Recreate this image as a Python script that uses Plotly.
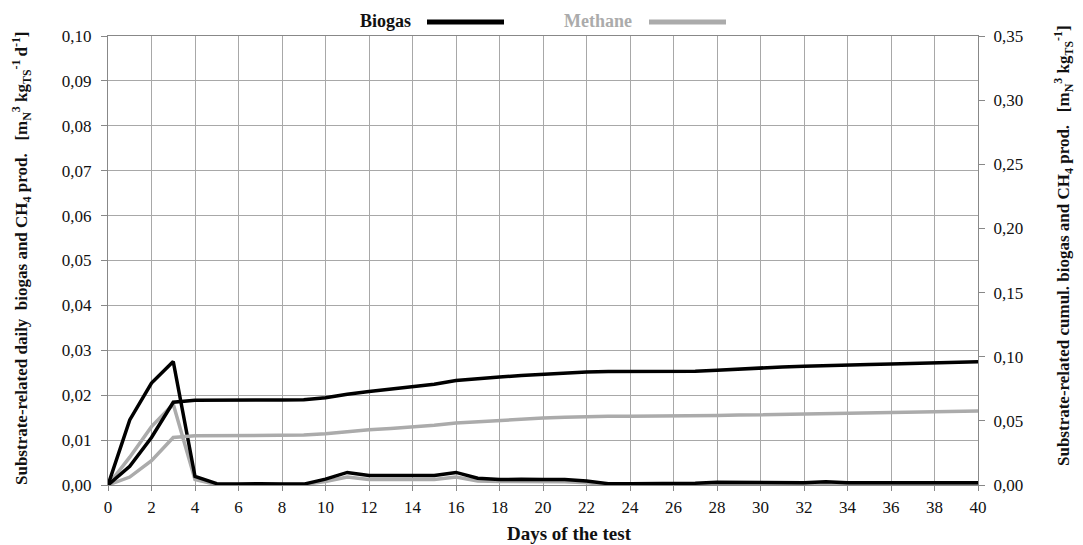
import plotly.graph_objects as go

days = list(range(0, 41))

daily_biogas = [0, 0.0145, 0.0227, 0.0275, 0.0019, 0.0003, 0.0002, 0.0003, 0.0002, 0.0002,
                0.0013, 0.0028, 0.0021, 0.0021, 0.0021, 0.0021, 0.0028, 0.0015, 0.0012, 0.0013,
                0.0012, 0.0012, 0.0009, 0.0003, 0.0003, 0.0003, 0.0003, 0.0004, 0.0006, 0.0006,
                0.0005, 0.0005, 0.0005, 0.0007, 0.0005, 0.0005, 0.0005, 0.0005, 0.0005, 0.0005,
                0.0005]

daily_methane = [0, 0.0062, 0.013, 0.018, 0.0012, 0.0001, 0.0001, 0.0001, 0.0001, 0.0001,
                 0.0008, 0.0018, 0.0012, 0.0012, 0.0012, 0.0012, 0.0018, 0.0009, 0.0008, 0.0008,
                 0.0007, 0.0007, 0.0005, 0.0001, 0.0001, 0.0001, 0.0001, 0.0001, 0.0003, 0.0004,
                 0.0003, 0.0003, 0.0003, 0.0004, 0.0003, 0.0003, 0.0003, 0.0003, 0.0003, 0.0003,
                 0.0003]

cumul_biogas = [0, 0.0145, 0.037, 0.0645, 0.066, 0.0663, 0.0663, 0.0663, 0.0663, 0.0664,
                0.068, 0.0708, 0.0728, 0.0747, 0.0766, 0.0785, 0.0815, 0.083, 0.0842, 0.0853,
                0.0864, 0.0874, 0.0881, 0.0884, 0.0885, 0.0885, 0.0885, 0.0887, 0.0895, 0.0905,
                0.0912, 0.092, 0.0926, 0.0932, 0.0937, 0.094, 0.0943, 0.0948, 0.0953, 0.0957,
                0.096]

cumul_methane = [0, 0.0062, 0.019, 0.037, 0.0384, 0.0386, 0.0387, 0.0388, 0.0388, 0.0389,
                 0.040, 0.0418, 0.043, 0.044, 0.0452, 0.0466, 0.0484, 0.0495, 0.0505, 0.0514,
                 0.0522, 0.0528, 0.0533, 0.0535, 0.0536, 0.0536, 0.0537, 0.0538, 0.0541, 0.0545,
                 0.0548, 0.0551, 0.0554, 0.0558, 0.0561, 0.0563, 0.0566, 0.0568, 0.0571, 0.0574,
                 0.0577]

BLACK = "#000000"
GRAY = "#ababab"
FONT = "Liberation Serif"
LW = 3.5

fig = go.Figure()
fig.add_trace(go.Scatter(x=days, y=cumul_methane, yaxis="y2", mode="lines",
                         line=dict(color=GRAY, width=LW), showlegend=False))
fig.add_trace(go.Scatter(x=days, y=cumul_biogas, yaxis="y2", mode="lines",
                         line=dict(color=BLACK, width=LW), showlegend=False))
fig.add_trace(go.Scatter(x=days, y=daily_methane, mode="lines",
                         line=dict(color=GRAY, width=LW), showlegend=False))
fig.add_trace(go.Scatter(x=days, y=daily_biogas, mode="lines",
                         line=dict(color=BLACK, width=LW), showlegend=False))

grid = "#a8a8a8"
axline = "#888888"
tickfont = dict(family=FONT, size=17, color="#111111")

fig.update_layout(
    width=1083, height=545,
    margin=dict(l=108, r=105, t=36, b=60),
    paper_bgcolor="white", plot_bgcolor="white",
    separators=", ",
    font=dict(family=FONT, color="#111111"),
    xaxis=dict(range=[0, 40], dtick=2, tick0=0, showgrid=True, gridcolor=grid, gridwidth=1,
               showline=True, linecolor=axline, linewidth=1, mirror=True,
               ticks="outside", ticklen=5, tickcolor=axline, tickfont=tickfont,
               ticklabelstandoff=2, zeroline=False),
    yaxis=dict(range=[0, 0.1], dtick=0.01, tick0=0, tickformat=".2f",
               showgrid=True, gridcolor=grid, gridwidth=1,
               showline=True, linecolor=axline, linewidth=1,
               ticks="outside", ticklen=6, tickcolor=axline, tickfont=tickfont,
               ticklabelstandoff=6, zeroline=False),
    yaxis2=dict(range=[0, 0.35], dtick=0.05, tick0=0, tickformat=".2f",
                overlaying="y", side="right", showgrid=False,
                showline=True, linecolor=axline, linewidth=1,
                ticks="outside", ticklen=6, tickcolor=axline, tickfont=tickfont,
                ticklabelstandoff=5, zeroline=False),
)

W = 870.0
H = 449.0
def px(x):
    return (x - 108) / W
def py(y):
    return (485 - y) / H

annotations = [
    dict(text="<b>Days of the test</b>", x=px(569), y=py(533), xref="paper", yref="paper",
         showarrow=False, font=dict(family=FONT, size=19, color="#111111"),
         xanchor="center", yanchor="middle"),
    dict(text="<b>Substrate-related daily  biogas and CH<sub>4</sub> prod.   [m<sub>N</sub><sup>3</sup> kg<sub>TS</sub><sup>-1 </sup>d<sup>-1</sup>]</b>",
         x=px(21), y=py(258), xref="paper", yref="paper", textangle=-90,
         showarrow=False, font=dict(family=FONT, size=17, color="#111111"),
         xanchor="center", yanchor="middle"),
    dict(text="<b>Substrate-related cumul. biogas and CH<sub>4</sub> prod.   [m<sub>N</sub><sup>3</sup> kg<sub>TS</sub><sup>-1</sup>]</b>",
         x=px(1063), y=py(246), xref="paper", yref="paper", textangle=-90,
         showarrow=False, font=dict(family=FONT, size=17, color="#111111"),
         xanchor="center", yanchor="middle"),
    dict(text="<b>Biogas</b>", x=px(413), y=py(21), xref="paper", yref="paper",
         showarrow=False, font=dict(family=FONT, size=18, color="#111111"),
         xanchor="right", yanchor="middle"),
    dict(text="<b>Methane</b>", x=px(634), y=py(21), xref="paper", yref="paper",
         showarrow=False, font=dict(family=FONT, size=18, color=GRAY),
         xanchor="right", yanchor="middle"),
]
fig.update_layout(annotations=annotations)

shapes = [
    dict(type="line", xref="paper", yref="paper", x0=px(427), x1=px(504), y0=py(22), y1=py(22),
         line=dict(color=BLACK, width=5)),
    dict(type="line", xref="paper", yref="paper", x0=px(649), x1=px(726), y0=py(22), y1=py(22),
         line=dict(color=GRAY, width=5)),
]
fig.update_layout(shapes=shapes)

fig.write_html("out.html")
